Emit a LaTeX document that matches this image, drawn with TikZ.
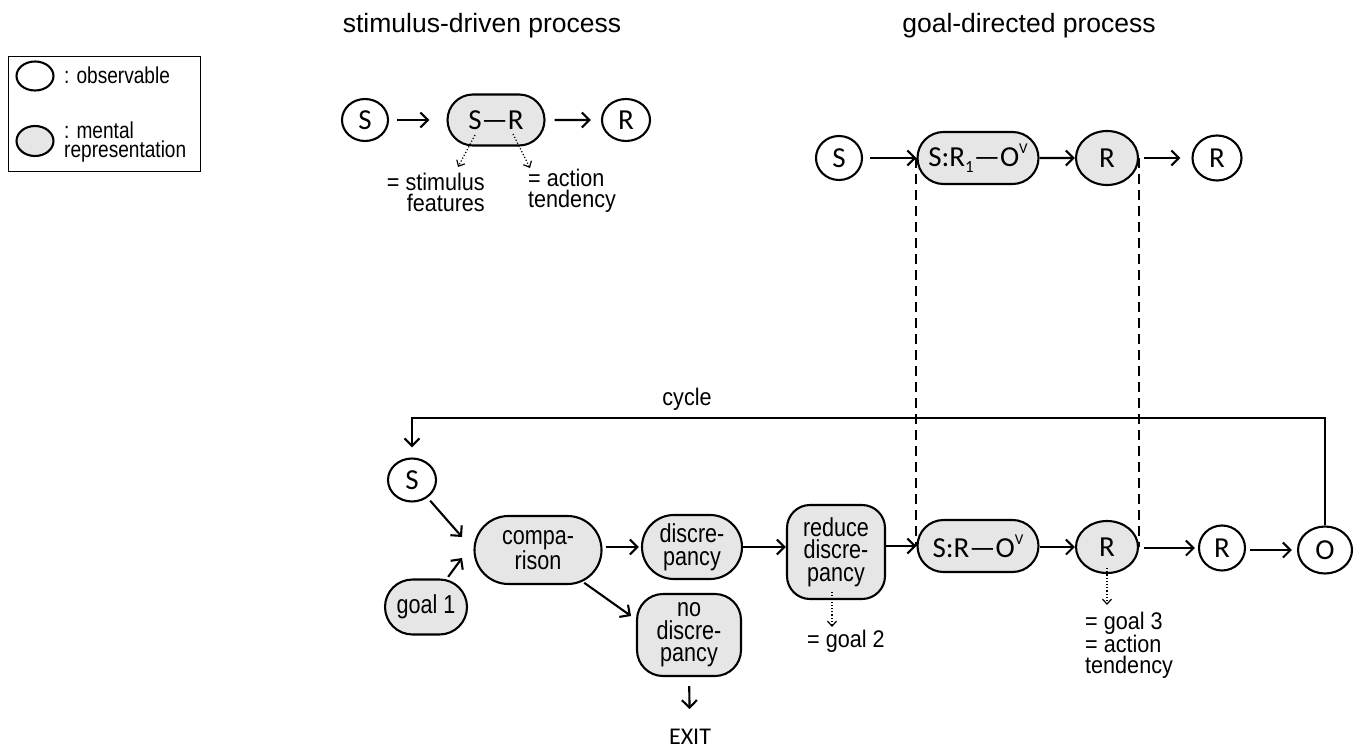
\documentclass[tikz,border=0pt]{standalone}
\usepackage{fontspec}
\setmainfont{Liberation Sans}
\newfontfamily\nf[FakeStretch=0.9]{Liberation Sans}
\newfontfamily\nfa[FakeStretch=0.83]{Liberation Sans}
\newfontfamily\cf{Carlito}
\usetikzlibrary{shapes.geometric,shapes.misc,arrows.meta,backgrounds,calc}
\definecolor{gfill}{RGB}{230,230,230}
\newcommand\mysub[1]{\raisebox{-0.22em}{\fontsize{17}{17}\selectfont #1}}
\newcommand\mysup[1]{\raisebox{0.45em}{\fontsize{15}{15}\selectfont #1}}
\begin{document}
\begin{tikzpicture}[x=1pt,y=-1pt,
  ln/.style={line width=2.1pt},
  obs/.style={ellipse, draw, ln, fill=white, inner sep=0pt, font=\cf\fontsize{29}{29}\selectfont},
  mell/.style={ellipse, draw, ln, fill=gfill, inner sep=0pt, font=\cf\fontsize{29}{29}\selectfont},
  men/.style={rounded rectangle, draw, ln, fill=gfill, inner sep=0pt, align=center, font=\nfa\fontsize{26}{23}\selectfont},
  mens/.style={men, font=\cf\fontsize{29}{29}\selectfont},
  menr/.style={rectangle, rounded corners=23pt, draw, ln, fill=gfill, inner sep=0pt, align=center, font=\nfa\fontsize{26}{22.5}\selectfont},
  arr/.style={ln, -{Straight Barb[length=7.5pt,width=15pt]}},
  darr/.style={line width=1.2pt, dotted, -{Straight Barb[length=5pt,width=9pt,line width=1.2pt]}},
  dln/.style={line width=2pt, dash pattern=on 10pt off 6pt},
  lbl/.style={inner sep=0pt, align=left, font=\nf\fontsize{24}{20.5}\selectfont},
  ttl/.style={inner sep=0pt, font=\fontsize{26.5}{26.5}\selectfont}
]
\useasboundingbox (0,0) rectangle (1359,751);

% legend
\node[draw, line width=1.4pt, minimum width=192pt, minimum height=115pt, anchor=north west, inner sep=0pt] (legend) at (8,56) {};
\node[obs, minimum width=37pt, minimum height=29pt] (lo) at (35,76) {};
\node[mell, minimum width=37pt, minimum height=30pt] (lm) at (35,141) {};
\node[lbl, anchor=west, font=\nfa\fontsize{23}{19.5}\selectfont] (lot) at (64,75) {: observable};
\node[lbl, anchor=west, font=\nfa\fontsize{23}{19.5}\selectfont] (lmt) at (64,142) {: mental\\representation};

% titles
\node[ttl] (t1) at (482,26) {stimulus-driven process};
\node[ttl] (t2) at (1029,26) {goal-directed process};

% stimulus-driven
\node[obs, minimum width=46pt, minimum height=42pt] (s1) at (365,120) {S};
\node[mens, minimum width=97pt, minimum height=51pt] (sr) at (496,120) {S—R};
\node[obs, minimum width=48pt, minimum height=42pt] (r1) at (626,120) {R};
\draw[arr, shorten <=8pt, shorten >=17pt] (s1) -- (sr);
\draw[arr, shorten <=9pt, shorten >=10pt] (sr) -- (r1);
\coordinate (sfa) at (458,167);
\coordinate (ata) at (530,168);
\draw[darr] ($(sr.center)+(-21,15)$) -- (sfa);
\draw[darr] ($(sr.center)+(17,14)$) -- (ata);
\node[lbl, align=right, anchor=north east] (sfl) at (485,173) {= stimulus\\features};
\node[lbl, anchor=north west] (atl) at (528,169) {= action\\tendency};

% goal-directed top
\node[obs, minimum width=46pt, minimum height=44pt] (s2) at (839,158) {S};
\node[mens, minimum width=121pt, minimum height=52pt] (p2) at (978,158) {S:R\mysub{1}—O\mysup{V}};
\node[mell, minimum width=62pt, minimum height=54pt] (rg2) at (1107,158) {R};
\node[obs, minimum width=49pt, minimum height=45pt] (rw2) at (1217,158) {R};
\draw[arr, shorten <=7pt] (s2) -- (p2);
\draw[arr] (p2) -- (rg2);
\draw[arr, shorten <=5pt, shorten >=11pt] (rg2) -- (rw2);

% lower process
\node[obs, minimum width=48pt, minimum height=43pt] (s3) at (412,480) {S};
\node[men, minimum width=82pt, minimum height=55pt] (g1) at (426,607) {goal 1};
\node[men, minimum width=127pt, minimum height=68pt] (cmp) at (538,550) {compa-\\rison};
\node[men, minimum width=100pt, minimum height=64pt] (dis) at (692,547) {discre-\\pancy};
\node[menr, minimum width=104pt, minimum height=82pt, rounded corners=26pt] (nd) at (689,635) {no\\discre-\\pancy};
\node[menr, minimum width=98pt, minimum height=94pt] (red) at (836,552) {reduce\\discre-\\pancy};
\node[mens, minimum width=121pt, minimum height=52pt] (p3) at (978,546) {S:R—O\mysup{V}};
\node[mell, minimum width=62pt, minimum height=52pt] (rg3) at (1107,547) {R};
\node[obs, minimum width=46pt, minimum height=45pt] (rw3) at (1222,548) {R};
\node[obs, minimum width=54pt, minimum height=47pt] (o3) at (1325,550) {O};
\node[inner sep=0pt, font=\cf\fontsize{24}{24}\selectfont] (exit) at (690,737) {EXIT};

\begin{pgfonlayer}{background}
\draw[dln] (p2.west) -- (p3.west);
\draw[dln] (rg2.east) -- (rg3.east);
\end{pgfonlayer}

\coordinate (inS) at (462,537);
\coordinate (inG) at (462,558);
\coordinate (toND) at (631,616);
\coordinate (cyc) at (870,418);
\draw[arr, shorten <=4pt] (s3) -- (inS);
\draw[arr, shorten <=3pt] (g1) -- (inG);
\draw[arr, shorten <=2pt] (cmp) -- (toND);
\draw[arr, shorten <=3pt, shorten >=2pt] (cmp.east |- dis) -- (dis.west);
\draw[arr] (dis.east) -- (dis.east -| red.west);
\draw[arr] (red.east |- p3) -- (p3.west);
\draw[arr] (p3.east |- rg3) -- (rg3.west);
\draw[arr, shorten <=5pt, shorten >=3pt] (rg3.east |- rw3) -- (rw3.west);
\draw[arr, shorten <=4pt, shorten >=5pt] (rw3.east |- o3) -- (o3.west);
\draw[arr, shorten <=9pt, shorten >=20pt] (nd.south) -- (exit.north);
\draw[arr, shorten >=10pt] (o3.north) |- (cyc) -| (s3.north);
\node[lbl, anchor=south] (cl) at (687,411) {cycle};

\coordinate (g2a) at (832,627);
\coordinate (g3a) at (1107,605);
\draw[darr] ($(red.south)+(-4,-8)$) -- (g2a);
\draw[darr] ($(rg3.south)+(0,-6)$) -- (g3a);
\node[lbl, anchor=west] (g2l) at (807,641) {= goal 2};
\node[lbl, anchor=north west] (g3l) at (1085,612) {= goal 3\\= action\\tendency};
\end{tikzpicture}
\end{document}
